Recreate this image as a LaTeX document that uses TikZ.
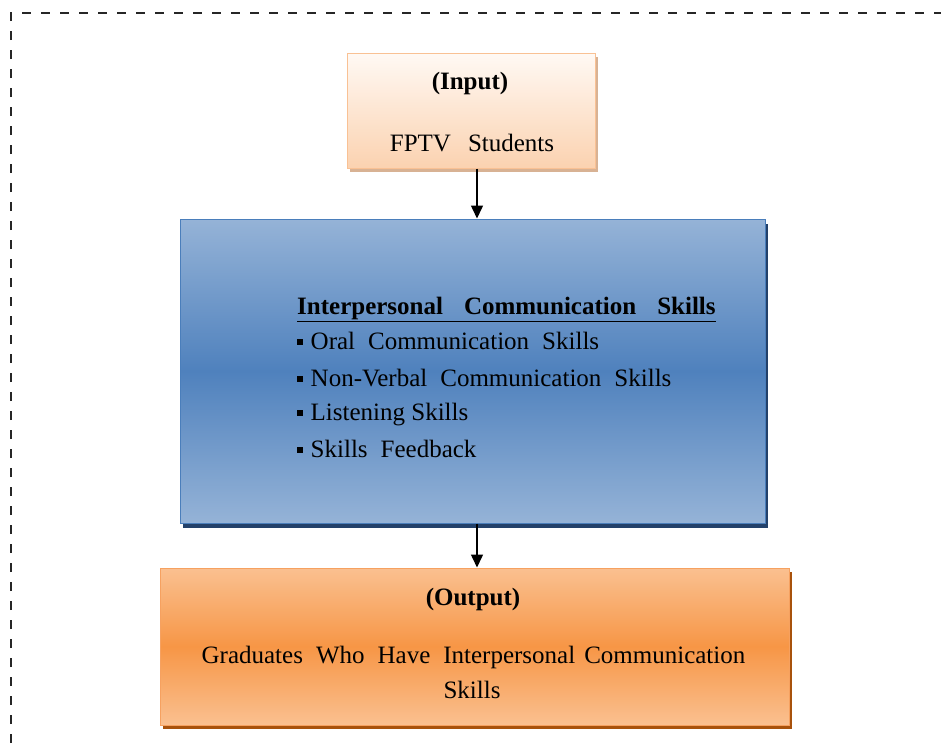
\documentclass[tikz,border=0pt]{standalone}
\usepackage{fontspec}
\setmainfont{Liberation Serif}
\usetikzlibrary{arrows.meta}
\definecolor{inTop}{HTML}{FFF9F4}
\definecolor{inBot}{HTML}{FBD2B0}
\definecolor{inBorder}{HTML}{F9C194}
\definecolor{inShadow}{HTML}{D8B294}
\definecolor{midEdge}{HTML}{95B3D7}
\definecolor{midMid}{HTML}{4F81BD}
\definecolor{midBorder}{HTML}{4A7EBB}
\definecolor{midShadow}{HTML}{23416A}
\definecolor{outEdge}{HTML}{FAC090}
\definecolor{outMid}{HTML}{F79646}
\definecolor{outBorder}{HTML}{F6A160}
\definecolor{outShadow}{HTML}{A8520C}
\definecolor{frameCol}{HTML}{262626}
\newcommand\sqbul{\raisebox{4.5pt}{\rule{5.5pt}{5.5pt}}\hspace{8pt}}
\newcommand\wsp{\hspace{13pt}}
\begin{document}
\begin{tikzpicture}[x=1pt,y=-1pt,
  box/.style={rectangle, inner sep=0pt, line width=1pt},
  inbox/.style={box, draw=inBorder, top color=inTop, bottom color=inBot,
    preaction={fill=inShadow, transform canvas={xshift=3pt,yshift=-4pt}}},
  midbox/.style={box, draw=midBorder, top color=midEdge, bottom color=midEdge, middle color=midMid,
    preaction={fill=midShadow, transform canvas={xshift=3pt,yshift=-5pt}}},
  outbox/.style={box, draw=outBorder, top color=outEdge, bottom color=outEdge, middle color=outMid,
    preaction={fill=outShadow, transform canvas={xshift=3pt,yshift=-4pt}}},
  txt/.style={inner sep=0pt, font=\fontsize{25}{30}\selectfont, text=black},
  arr/.style={line width=1.5pt, draw=black, -{Triangle[length=13pt,width=12pt]}},
  framestyle/.style={line width=2.6pt, dash pattern=on 9pt off 10pt, draw=frameCol}
]
\useasboundingbox (0,0) rectangle (941,744);
\begin{scope}
  \clip (0,0) rectangle (941,744);
  \draw[framestyle] (11,800) -- (11,13) -- (1000,13);
\end{scope}

\node[inbox, minimum width=248pt, minimum height=115pt] (inp) at (471,110.5) {};
\node[midbox, minimum width=585pt, minimum height=304pt] (mid) at (472.5,371) {};
\node[outbox, minimum width=629pt, minimum height=157pt] (out) at (474.5,646.5) {};

\node[txt, anchor=base] (inTitle) at (470,89) {\textbf{(Input)}};
\node[txt, anchor=base] (inText) at (472,151) {FPTV\hspace{17pt}Students};

\node[txt, anchor=base west] (midTitle) at (297,314) {\textbf{\underline{Interpersonal\hspace{21pt}Communication\hspace{21pt}Skills}}};
\node[txt, anchor=base west] (midL1) at (297,349) {\sqbul Oral\wsp Communication\wsp Skills};
\node[txt, anchor=base west] (midL2) at (297,386) {\sqbul Non-Verbal\wsp Communication\wsp Skills};
\node[txt, anchor=base west] (midL3) at (297,420) {\sqbul Listening Skills};
\node[txt, anchor=base west] (midL4) at (297,457) {\sqbul Skills\wsp Feedback};

\node[txt, anchor=base] (outTitle) at (473,605) {\textbf{(Output)}};
\node[txt, anchor=base] (outL1) at (473.5,663) {Graduates\hspace{13pt}Who\hspace{13pt}Have\hspace{13pt}Interpersonal\hspace{9pt}Communication};
\node[txt, anchor=base] (outL2) at (472,698) {Skills};

\coordinate (ax) at (477,0);
\draw[arr] (inp.south -| ax) -- (mid.north -| ax);
\draw[arr] (mid.south -| ax) -- (out.north -| ax);
\end{tikzpicture}
\end{document}
